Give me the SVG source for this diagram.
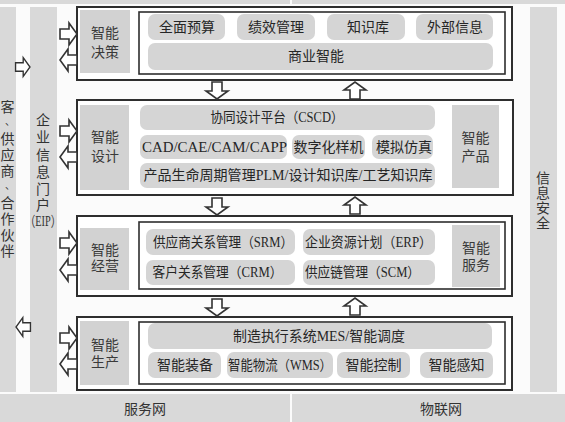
<svg xmlns="http://www.w3.org/2000/svg" xmlns:xlink="http://www.w3.org/1999/xlink" width="565" height="422" viewBox="0 0 565 422">
<style>
text{font-family:'Liberation Serif','Noto Sans CJK SC',serif;dominant-baseline:central;text-anchor:middle;}
.pt{font-size:14px;fill:#262626;}
.sl{font-size:14px;fill:#3a3a3a;}
.vt{font-size:14px;fill:#333;}
.pill{fill:#d5d5d5;}
.side{fill:#d2d2d2;}
.strip{fill:#d9d9d9;}
.outer{fill:#ffffff;stroke:#2e2e2e;stroke-width:2;}
.inner{fill:none;stroke:#2e2e2e;stroke-width:1.6;}
.arrow{fill:#ffffff;stroke:#333;stroke-width:1.6;stroke-linejoin:miter;}
</style>
<defs>
<path id="arr" d="M-17,-5 H-8 V-11 L0,0 L-8,11 V5 H-17 Z"/>
</defs>
<rect width="565" height="422" fill="#fbfbfb"/>
<g id="bands">
<rect class="strip" x="0" y="0" width="290" height="4"/>
<rect class="strip" x="292" y="0" width="273" height="4"/>
<rect class="strip" x="0" y="394" width="290" height="28"/>
<rect class="strip" x="292" y="394" width="273" height="28"/>
<text class="vt" x="145" y="409">服务网</text>
<text class="vt" x="441" y="409">物联网</text>
</g>
<g id="partners">
<rect class="strip" x="0" y="7" width="16" height="385"/>
<text class="vt">
<tspan x="7.5" y="107">客</tspan><tspan x="10" y="121" font-size="10">、</tspan><tspan x="7.5" y="139">供</tspan><tspan x="7.5" y="155">应</tspan><tspan x="7.5" y="171">商</tspan><tspan x="10" y="185" font-size="10">、</tspan><tspan x="7.5" y="203">合</tspan><tspan x="7.5" y="219">作</tspan><tspan x="7.5" y="235">伙</tspan><tspan x="7.5" y="251">伴</tspan>
</text>
</g>
<g id="eip">
<rect class="strip" x="30" y="7" width="27" height="385"/>
<text class="vt">
<tspan x="43" y="120">企</tspan><tspan x="43" y="137">业</tspan><tspan x="43" y="155">信</tspan><tspan x="43" y="172">息</tspan><tspan x="43" y="189">门</tspan><tspan x="43" y="205">户</tspan>
</text>
<text class="vt" x="43" y="221" font-size="12" textLength="36" lengthAdjust="spacingAndGlyphs">（EIP）</text>
</g>
<g id="security">
<rect class="strip" x="530" y="7" width="27" height="385"/>
<text class="vt">
<tspan x="543" y="178">信</tspan><tspan x="543" y="193">息</tspan><tspan x="543" y="208">安</tspan><tspan x="543" y="223">全</tspan>
</text>
</g>
<g id="decision">
<rect class="outer" x="77" y="7" width="435" height="73"/>
<rect class="inner" x="139" y="12" width="366" height="62"/>
<rect class="side" x="80" y="10" width="50" height="63"/>
<text class="sl" x="105" y="33.5">智能</text>
<text class="sl" x="105" y="52.5">决策</text>
<rect class="pill" x="148" y="14" width="77" height="26" rx="7"/>
<rect class="pill" x="237" y="14" width="78" height="26" rx="7"/>
<rect class="pill" x="327" y="14" width="78" height="26" rx="7"/>
<rect class="pill" x="416" y="14" width="77" height="26" rx="7"/>
<rect class="pill" x="148" y="43" width="345" height="27" rx="7"/>
<text class="pt" x="187" y="27">全面预算</text>
<text class="pt" x="276" y="27">绩效管理</text>
<text class="pt" x="368" y="27">知识库</text>
<text class="pt" x="455" y="27">外部信息</text>
<text class="pt" x="316" y="56.5">商业智能</text>
</g>
<g id="design">
<rect class="outer" x="77" y="100" width="436" height="95"/>
<rect class="side" x="80" y="105" width="49" height="85"/>
<text class="sl" x="105" y="137">智能</text>
<text class="sl" x="105" y="156">设计</text>
<rect class="pill" x="140" y="105" width="295" height="25" rx="7"/>
<rect class="pill" x="140" y="135" width="147" height="24" rx="7"/>
<rect class="pill" x="292" y="135" width="73" height="24" rx="7"/>
<rect class="pill" x="372" y="135" width="61" height="24" rx="7"/>
<rect class="pill" x="140" y="163" width="295" height="25" rx="7"/>
<text class="pt" x="277" y="117.5" textLength="133" lengthAdjust="spacingAndGlyphs">协同设计平台（CSCD）</text>
<text class="pt" x="214.5" y="147" textLength="145" lengthAdjust="spacingAndGlyphs">CAD/CAE/CAM/CAPP</text>
<text class="pt" x="328.5" y="147">数字化样机</text>
<text class="pt" x="404" y="147">模拟仿真</text>
<text class="pt" x="288" y="175.5" textLength="289" lengthAdjust="spacingAndGlyphs">产品生命周期管理PLM/设计知识库/工艺知识库</text>
<rect class="side" x="452" y="105" width="47" height="83"/>
<text class="sl" x="475.5" y="138.5">智能</text>
<text class="sl" x="475.5" y="156.5">产品</text>
</g>
<g id="operation">
<rect class="outer" x="77" y="216" width="435" height="80"/>
<rect class="inner" x="139" y="222" width="366" height="67"/>
<rect class="side" x="80" y="228" width="49" height="62"/>
<text class="sl" x="105" y="250">智能</text>
<text class="sl" x="105" y="266.5">经营</text>
<rect class="pill" x="146" y="229" width="149" height="26" rx="7"/>
<rect class="pill" x="303" y="229" width="132" height="26" rx="7"/>
<rect class="pill" x="146" y="260" width="149" height="25" rx="7"/>
<rect class="pill" x="303" y="260" width="132" height="25" rx="7"/>
<text class="pt" x="223" y="242.5" textLength="140" lengthAdjust="spacingAndGlyphs">供应商关系管理（SRM）</text>
<text class="pt" x="368.5" y="242.5" textLength="127" lengthAdjust="spacingAndGlyphs">企业资源计划（ERP）</text>
<text class="pt" x="217.5" y="272.5" textLength="130" lengthAdjust="spacingAndGlyphs">客户关系管理（CRM）</text>
<text class="pt" x="362.5" y="272.5" textLength="115" lengthAdjust="spacingAndGlyphs">供应链管理（SCM）</text>
<rect class="side" x="452" y="225" width="48" height="62"/>
<text class="sl" x="476" y="248">智能</text>
<text class="sl" x="476" y="265.5">服务</text>
</g>
<g id="production">
<rect class="outer" x="77" y="317" width="435" height="73"/>
<rect class="inner" x="139" y="322" width="366" height="62"/>
<rect class="side" x="80" y="321" width="49" height="64"/>
<text class="sl" x="105" y="345">智能</text>
<text class="sl" x="105" y="362">生产</text>
<rect class="pill" x="148" y="323" width="344" height="26" rx="7"/>
<rect class="pill" x="148" y="352" width="73" height="26" rx="7"/>
<rect class="pill" x="227" y="352" width="106" height="26" rx="7"/>
<rect class="pill" x="337" y="352" width="73" height="26" rx="7"/>
<rect class="pill" x="420" y="352" width="73" height="26" rx="7"/>
<text class="pt" x="319" y="336" textLength="172" lengthAdjust="spacingAndGlyphs">制造执行系统MES/智能调度</text>
<text class="pt" x="185" y="365">智能装备</text>
<text class="pt" x="280" y="365" textLength="104" lengthAdjust="spacingAndGlyphs">智能物流（WMS）</text>
<text class="pt" x="373.5" y="365">智能控制</text>
<text class="pt" x="456.5" y="365">智能感知</text>
</g>
<g id="connectors">
<use class="arrow" xlink:href="#arr" transform="translate(30,67) scale(0.85)"/>
<use class="arrow" xlink:href="#arr" transform="translate(16,327) rotate(180) scale(0.85)"/>
<use class="arrow" xlink:href="#arr" transform="translate(77,34)"/>
<use class="arrow" xlink:href="#arr" transform="translate(60,60) rotate(180)"/>
<use class="arrow" xlink:href="#arr" transform="translate(77,131)"/>
<use class="arrow" xlink:href="#arr" transform="translate(60,157) rotate(180)"/>
<use class="arrow" xlink:href="#arr" transform="translate(77,243)"/>
<use class="arrow" xlink:href="#arr" transform="translate(60,270) rotate(180)"/>
<use class="arrow" xlink:href="#arr" transform="translate(77,338)"/>
<use class="arrow" xlink:href="#arr" transform="translate(60,364) rotate(180)"/>
<use class="arrow" xlink:href="#arr" transform="translate(217,99) rotate(90)"/>
<use class="arrow" xlink:href="#arr" transform="translate(355,82) rotate(-90)"/>
<use class="arrow" xlink:href="#arr" transform="translate(217,215) rotate(90)"/>
<use class="arrow" xlink:href="#arr" transform="translate(355,197) rotate(-90)"/>
<use class="arrow" xlink:href="#arr" transform="translate(217,316) rotate(90)"/>
<use class="arrow" xlink:href="#arr" transform="translate(355,298) rotate(-90)"/>
</g>
</svg>
